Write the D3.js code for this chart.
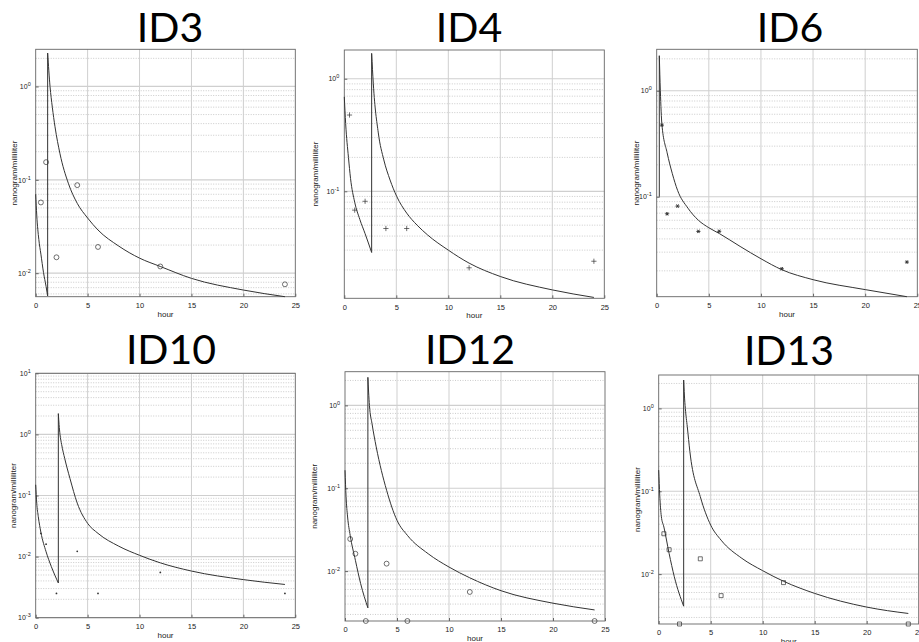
<!DOCTYPE html>
<html>
<head>
<meta charset="utf-8">
<script src="https://cdn.jsdelivr.net/npm/d3@7"></script>
<style>
  body { margin: 0; background: #fff; }
  svg { display: block; }
  text { font-family: "Liberation Sans", Arial, sans-serif; }
</style>
</head>
<body>
<svg id="chart" width="919" height="642"></svg>
<script>
// subjects and sampling times
const titles = ['ID3', 'ID4', 'ID6', 'ID10', 'ID12', 'ID13']
const sampleHours = [0.5, 1, 2, 4, 6, 12, 24]
const xTicks = [0, 5, 10, 15, 20, 25]

const id3Obs = [0.0572, 0.1546, 0.0148, 0.0877, 0.0191, 0.0118, 0.0076]
const id4Obs = [0.476, 0.068, 0.0815, 0.0467, 0.0467, 0.0209, 0.0239]
const id6Obs = [0.474, 0.069, 0.0816, 0.0471, 0.0472, 0.0209, 0.0242]
const id10Obs = [0.024, 0.016, 0.0025, 0.0122, 0.0025, 0.0055, 0.0025]
const id12Obs = [0.0244, 0.0162, 0.0025, 0.0123, 0.0025, 0.0056, 0.0025]
const id13Obs = [0.0307, 0.0197, 0.0025, 0.0153, 0.0055, 0.0079, 0.0025]

// fitted curve, [hour, conc] - part before the second dose jump and part after
const id3FitEarly = [[0, 0.07], [0.1, 0.042], [0.3, 0.023], [0.5, 0.016], [0.75, 0.0102], [1.0, 0.0072], [1.15, 0.0057]]
const id3FitLate = [[1.15, 2.28], [1.38, 1.0], [1.6, 0.6], [1.86, 0.37], [2.34, 0.19], [3.14, 0.092], [4, 0.056], [5, 0.039], [6, 0.029], [8, 0.0195], [10, 0.0145], [12, 0.0118], [15, 0.0088], [20, 0.0066], [24, 0.0056]]
const id4FitEarly = [[0, 0.69], [0.13, 0.4], [0.4, 0.2], [0.6, 0.13], [1, 0.08], [1.5, 0.056], [2, 0.042], [2.63, 0.0286]]
const id4FitLate = [[2.63, 1.68], [2.79, 0.9], [3.27, 0.33], [3.8, 0.19], [4.4, 0.126], [5.04, 0.09], [6, 0.064], [7, 0.05], [8, 0.041], [10, 0.03], [12, 0.023], [15, 0.0175], [20, 0.0133], [24, 0.0114]]
const id6FitEarly = [[0.25, 0.1]]
const id6FitLate = [[0.25, 2.14], [0.35, 1.0], [0.5, 0.48], [1, 0.26], [1.5, 0.165], [2, 0.115], [3, 0.078], [4, 0.06], [5, 0.051], [6, 0.045], [8, 0.034], [10, 0.026], [12, 0.0205], [15, 0.0165], [20, 0.0133], [24, 0.0114]]
const id10FitEarly = [[0, 0.15], [0.1, 0.075], [0.25, 0.045], [0.5, 0.025], [1, 0.012], [1.5, 0.0069], [2.18, 0.0037]]
const id10FitLate = [[2.18, 2.19], [2.25, 1.45], [2.34, 1.0], [2.5, 0.68], [2.8, 0.4], [3.3, 0.19], [4, 0.075], [5, 0.035], [6, 0.024], [8, 0.0148], [10, 0.0105], [12, 0.0079], [15, 0.0058], [20, 0.0042], [24, 0.0035]]
const id12FitEarly = [[0, 0.165], [0.1, 0.08], [0.25, 0.045], [0.5, 0.027], [1, 0.0135], [1.5, 0.0071], [2.2, 0.0036]]
const id12FitLate = [[2.2, 2.18], [2.27, 1.45], [2.35, 1.0], [2.6, 0.6], [3, 0.316], [4, 0.0946], [5, 0.041], [6, 0.027], [8, 0.0162], [10, 0.0112], [12, 0.0083], [15, 0.0058], [20, 0.0041], [24, 0.0034]]
const id13FitEarly = [[0, 0.18], [0.1, 0.09], [0.25, 0.05], [0.5, 0.037], [1, 0.0178], [1.5, 0.0093], [2.4, 0.0041]]
const id13FitLate = [[2.4, 2.2], [2.47, 1.45], [2.56, 1.0], [2.75, 0.6], [3, 0.3], [4, 0.086], [5, 0.039], [6, 0.0257], [8, 0.0155], [10, 0.011], [12, 0.0082], [15, 0.00585], [20, 0.004], [24, 0.00335]]

// y axis ranges
const yDomains = [[0.0056, 2.5], [0.0112, 1.8], [0.0114, 2.46], [0.001, 10], [0.0025, 2.55], [0.0025, 2.53]]

const observed = [id3Obs, id4Obs, id6Obs, id10Obs, id12Obs, id13Obs]
const fits = [[id3FitEarly, id3FitLate], [id4FitEarly, id4FitLate], [id6FitEarly, id6FitLate],
              [id10FitEarly, id10FitLate], [id12FitEarly, id12FitLate], [id13FitEarly, id13FitLate]]

// layout of the six panels (plot box edges, title centre, y label offset)
const panels = [
  { l: 35.7, r: 295.3, t: 49.3, b: 296.7, tx: 170, ty: 41.5, yl: -22, mark: 'circle' },
  { l: 344.3, r: 604.3, t: 50, b: 298.3, tx: 469, ty: 41.5, yl: -29, mark: 'plus' },
  { l: 656.7, r: 917.3, t: 49.3, b: 296.7, tx: 790, ty: 41.5, yl: -21, mark: 'star' },
  { l: 35.7, r: 295.3, t: 373.3, b: 617.7, tx: 171, ty: 364, yl: -23, mark: 'dot' },
  { l: 345, r: 605, t: 371.7, b: 621, tx: 470, ty: 364, yl: -31, mark: 'circle' },
  { l: 658.7, r: 918.7, t: 375, b: 624, tx: 789, ty: 365, yl: -21.5, mark: 'square' }
]

const markPaths = {
  circle: d3.symbol(d3.symbolCircle, 19)(),
  plus: 'M-2.6,0H2.6M0,-2.6V2.6',
  star: 'M-2,0H2M-1,-1.7L1,1.7M-1,1.7L1,-1.7',
  square: 'M-2,-2H2V2H-2Z'
}

const svg = d3.select('#chart')
svg.append('rect').attr('width', 919).attr('height', 642).attr('fill', '#fff')

panels.forEach((p, i) => {
  const g = svg.append('g')
  const x = d3.scaleLinear().domain([0, 25]).range([p.l, p.r])
  const y = d3.scaleLog().domain(yDomains[i]).range([p.b, p.t])

  // title
  g.append('text')
    .attr('x', p.tx).attr('y', p.ty)
    .attr('text-anchor', 'middle')
    .style('font-family', 'Lato, "Open Sans", sans-serif')
    .style('font-size', '41px')
    .attr('fill', '#000')
    .text(titles[i])

  // grid lines
  const yt = y.ticks()
  const isMajor = v => Math.abs(Math.log10(v) - Math.round(Math.log10(v))) < 1e-6
  g.append('g').selectAll('line').data(yt.filter(v => !isMajor(v))).join('line')
    .attr('x1', p.l).attr('x2', p.r)
    .attr('y1', d => y(d)).attr('y2', d => y(d))
    .attr('stroke', '#a8a8a8').attr('stroke-width', 0.6).attr('stroke-dasharray', '1,1.5')
  g.append('g').selectAll('line').data(yt.filter(isMajor)).join('line')
    .attr('x1', p.l).attr('x2', p.r)
    .attr('y1', d => y(d)).attr('y2', d => y(d))
    .attr('stroke', '#cfcfcf').attr('stroke-width', 1.2)
  g.append('g').selectAll('line').data(xTicks.slice(1, -1)).join('line')
    .attr('x1', d => x(d)).attr('x2', d => x(d))
    .attr('y1', p.t).attr('y2', p.b)
    .attr('stroke', '#cfcfcf').attr('stroke-width', 1)

  // x axis
  const xa = g.append('g').attr('transform', `translate(0,${p.b})`)
    .call(d3.axisBottom(x).tickValues(xTicks).tickSizeInner(-3).tickSizeOuter(0).tickPadding(6))
  xa.select('.domain').remove()
  xa.selectAll('line').attr('stroke', '#666')
  xa.selectAll('text').style('font-size', '7.5px').attr('fill', '#222')

  // y axis with 10^n labels
  const decades = yt.filter(isMajor)
  const ya = g.append('g').attr('transform', `translate(${p.l},0)`)
    .call(d3.axisLeft(y).tickValues(decades).tickSizeInner(-3).tickSizeOuter(0).tickPadding(5).tickFormat(() => ''))
  ya.select('.domain').remove()
  ya.selectAll('line').attr('stroke', '#666')
  ya.selectAll('.tick text').each(function (d) {
    const t = d3.select(this).style('font-size', '7px').attr('fill', '#222')
    t.append('tspan').text('10')
    t.append('tspan').attr('dy', '-3').style('font-size', '5.5px').text(Math.round(Math.log10(d)))
  })

  // axis titles
  g.append('text')
    .attr('x', (p.l + p.r) / 2).attr('y', p.b + 20)
    .attr('text-anchor', 'middle').style('font-size', '8px').attr('fill', '#222')
    .text('hour')
  g.append('text')
    .attr('transform', `translate(${p.l + p.yl},${(p.t + p.b) / 2}) rotate(-90)`)
    .attr('text-anchor', 'middle').attr('dy', '0.35em').style('font-size', '8px').attr('fill', '#222')
    .text('nanogram/milliliter')

  // plot box
  g.append('rect')
    .attr('x', p.l).attr('y', p.t).attr('width', p.r - p.l).attr('height', p.b - p.t)
    .attr('fill', 'none').attr('stroke', '#666').attr('stroke-width', 0.9)

  // fitted curve
  const [early, late] = fits[i]
  const line = d3.line().x(d => x(d[0])).y(d => y(d[1])).curve(d3.curveMonotoneX)
  const straight = d3.line().x(d => x(d[0])).y(d => y(d[1]))
  const curveG = g.append('g').attr('fill', 'none').attr('stroke', '#333').attr('stroke-width', 1)
  if (early.length > 1) curveG.append('path').attr('d', line(early))
  curveG.append('path').attr('d', straight([early[early.length - 1], late[0]]))
  curveG.append('path').attr('d', line(late))

  // observations
  const pts = sampleHours.map((h, k) => [h, observed[i][k]])
  const mg = g.append('g')
  if (p.mark === 'dot') {
    mg.selectAll('circle').data(pts).join('circle')
      .attr('cx', d => x(d[0])).attr('cy', d => y(d[1])).attr('r', 0.9).attr('fill', '#333')
  } else {
    mg.selectAll('path').data(pts).join('path')
      .attr('transform', d => `translate(${x(d[0])},${y(d[1])})`)
      .attr('d', markPaths[p.mark])
      .attr('fill', 'none').attr('stroke', '#333')
      .attr('stroke-width', p.mark === 'star' ? 1 : 0.7)
  }
})
</script>
</body>
</html>
